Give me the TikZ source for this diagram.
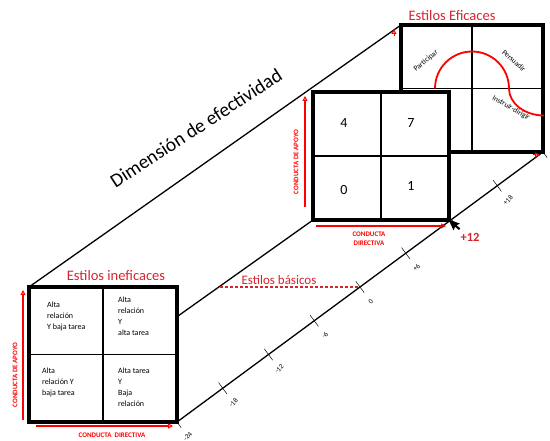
\documentclass[tikz,border=0pt]{standalone}
\usepackage{fontspec}
\setmainfont{Carlito}
\usetikzlibrary{arrows.meta,positioning,calc,backgrounds}
\definecolor{rojo}{RGB}{212,36,46}
\tikzset{marco/.style={draw,line width=3.5pt,fill=white,inner sep=0pt,outer sep=0pt}}
\tikzset{rejilla/.style={line width=1.8pt}}
\tikzset{diag/.style={line width=1.3pt}}
\tikzset{eje/.style={red,line width=2pt,-{Triangle[open,length=5pt,width=5pt,line width=1pt]}}}
\tikzset{ejetxt/.style={text=red,font=\bfseries\fontsize{7}{9}\selectfont,align=center,inner sep=0pt}}
\tikzset{titulo/.style={text=rojo,font=\fontsize{14.5}{16}\selectfont,inner sep=0pt}}
\tikzset{celda/.style={font=\fontsize{8}{11}\selectfont,align=left,inner sep=0pt,anchor=north west}}
\tikzset{estilo/.style={font=\fontsize{7.5}{8}\selectfont,inner sep=0pt}}
\tikzset{numero/.style={font=\fontsize{14}{16}\selectfont,inner sep=0pt}}
\tikzset{marca/.style={line width=0.5pt}}
\tikzset{marcatxt/.style={font=\fontsize{7}{8}\selectfont,rotate=45,inner sep=0pt}}
\tikzset{arco/.style={red,line width=1.8pt}}

\begin{document}
\begin{tikzpicture}[x=1pt,y=1pt]
  \useasboundingbox (0,0) rectangle (550,-441);

  % estilos eficaces
  \node[marco,minimum width=142pt,minimum height=127pt] (eff) at (472,-88.5) {};
  \draw[rejilla] (eff.north) -- (eff.south) (eff.west) -- (eff.east);
  \draw[arco] ([xshift=-37pt]eff.center) arc[start angle=180,end angle=0,radius=37pt]
    arc[start angle=180,end angle=270,x radius=35pt,y radius=27pt];
  \node[estilo,rotate=40] (participar) at (426,-61) {Participar};
  \node[estilo,rotate=-42] (persuadir) at (514,-61) {Persuadir};
  \node[estilo,rotate=-30] (instruir) at (511,-108) {Instruir-dirigir};
  \node[titulo] (tEff) at (452,-16) {Estilos Eficaces};

  % estilos basicos
  \node[marco,minimum width=136pt,minimum height=128pt] (basic) at (381,-156) {};
  \draw[rejilla] (basic.north) -- (basic.south) (basic.west) -- (basic.east);
  \node[numero] (n4) at (344,-123) {4};
  \node[numero] (n7) at (411,-123) {7};
  \node[numero] (n0) at (344,-190) {0};
  \node[numero] (n1) at (411,-186) {1};
  \draw[eje] ([xshift=-8pt,yshift=13pt]basic.south west) -- ([xshift=-8pt,yshift=-4pt]basic.north west);
  \draw[eje] ([xshift=3pt,yshift=-6pt]basic.south west) -- ([xshift=-3pt,yshift=-6pt]basic.south east);
  \node[ejetxt,rotate=90] (apoyoB) at (296,-162) {CONDUCTA DE APOYO};
  \node[ejetxt] (dirB) at (369,-239) {CONDUCTA\\DIRECTIVA};

  % estilos ineficaces
  \node[marco,minimum width=148pt,minimum height=135pt] (ineff) at (103,-354.5) {};
  \draw[rejilla] (ineff.north) -- (ineff.south) (ineff.west) -- (ineff.east);
  \node[celda] (c1) at (47,-302) {Alta\\relación\\Y baja tarea};
  \node[celda] (c2) at (118,-297) {Alta\\relación\\Y\\alta tarea};
  \node[celda] (c3) at (42,-368) {Alta\\relación Y\\baja tarea};
  \node[celda] (c4) at (118,-368) {Alta tarea\\Y\\Baja\\relación};
  \draw[eje] ([xshift=-6pt,yshift=2pt]ineff.south west) -- ([xshift=-6pt,yshift=-3pt]ineff.north west);
  \draw[eje] ([xshift=7pt,yshift=-4pt]ineff.south west) -- ([xshift=-4pt,yshift=-4pt]ineff.south east);
  \node[ejetxt,rotate=90] (apoyoI) at (15,-375) {CONDUCTA DE APOYO};
  \node[ejetxt] (dirI) at (112,-435) {CONDUCTA\ \ DIRECTIVA};
  \node[titulo] (tIneff) at (116,-276) {Estilos ineficaces};

  % lineas de fondo y escala
  \begin{scope}[on background layer]
    \draw[diag] (ineff.north west) -- (eff.north west);
    \draw[diag] (ineff.south west) -- (basic.south west);
    \coordinate (ax0) at (ineff.south east);
    \coordinate (ax1) at (eff.south east);
    \draw[diag] (ax0) -- (ax1);
    \foreach \i/\lab in {0/-24,1/-18,2/-12,3/-6,4/0,5/+6,6/,7/+18,8/} {
      \coordinate (t\i) at ($(ax0)!\i/8!(ax1)$);
      \draw[marca] ($(t\i)+(126.4:7pt)$) -- ($(t\i)+(-53.6:7pt)$);
      \node[marcatxt] (tl\i) at ($(t\i)+(-53.6:18pt)$) {\lab};
    }
  \end{scope}

  \draw[eje,line width=1pt] (394,-36) -- (394,-29);
  \draw[eje,line width=1pt] (533,-155) -- (540,-155);

  \coordinate (bas0) at (220,-287);
  \draw[rojo,dashed,line width=1.2pt,dash pattern=on 3pt off 2pt] (bas0) -- (t4);
  \node[text=rojo,font=\fontsize{13}{15}\selectfont,inner sep=0pt] (tBas) at (279,-280) {Estilos básicos};

  \node[font=\fontsize{19.5}{22}\selectfont,rotate=33,inner sep=0pt] (dim) at (196,-128) {Dimensión de efectividad};

  \fill[shift={(t6)},xshift=-3pt,rotate=25,scale=1.1] (0,0) -- (0,-11) -- (2.6,-8.4) -- (4.5,-12.6)
    -- (6.3,-11.8) -- (4.4,-7.8) -- (7.9,-7.8) -- cycle;
  \node[text=rojo,font=\bfseries\fontsize{12.5}{14}\selectfont,inner sep=0pt] (mas12) at (470,-237) {+12};
\end{tikzpicture}
\end{document}
